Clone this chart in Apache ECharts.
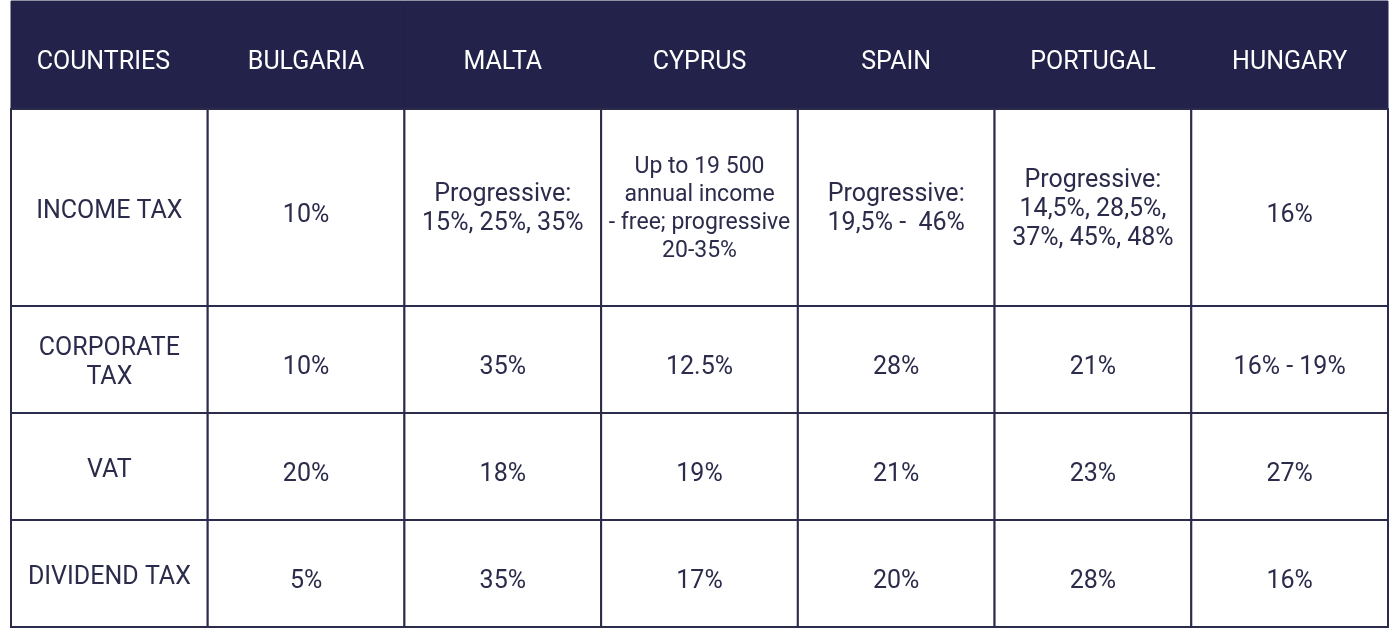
<!DOCTYPE html>
<html>
<head>
<meta charset="utf-8">
<script src="https://cdn.jsdelivr.net/npm/echarts@6/dist/echarts.min.js"></script>
<style>
html,body{margin:0;padding:0;background:#ffffff;}
#chart{width:1400px;height:639px;}
</style>
</head>
<body>
<div id="chart"></div>
<script>
// ---- data ----
var columns = ['COUNTRIES', 'BULGARIA', 'MALTA', 'CYPRUS', 'SPAIN', 'PORTUGAL', 'HUNGARY'];
var rowLabels = ['INCOME TAX', 'CORPORATE\nTAX', 'VAT', 'DIVIDEND TAX'];
var incomeTax = ['10%', 'Progressive:\n15%, 25%, 35%', 'Up to 19 500\nannual income\n- free; progressive\n20-35%', 'Progressive:\n19,5% -  46%', 'Progressive:\n14,5%, 28,5%,\n37%, 45%, 48%', '16%'];
var corporateTax = ['10%', '35%', '12.5%', '28%', '21%', '16% - 19%'];
var vat = ['20%', '18%', '19%', '21%', '23%', '27%'];
var dividendTax = ['5%', '35%', '17%', '20%', '28%', '16%'];

// ---- layout (row heights in axis units) ----
var rowHeights = [108, 197, 107, 107, 107];
var cum = [0];
rowHeights.forEach(function (h, i) { cum.push(cum[i] + h); });

var bodyRows = [incomeTax, corporateTax, vat, dividendTax];
var cells = [];   // [col, row]
var texts = [];
columns.forEach(function (name, c) { cells.push([c, 0]); texts.push(name); });
bodyRows.forEach(function (vals, r) {
  cells.push([0, r + 1]); texts.push(rowLabels[r]);
  vals.forEach(function (v, c) { cells.push([c + 1, r + 1]); texts.push(v); });
});

var NAVY = '#22224a';
var INK = '#2b2b4b';

var chart = echarts.init(document.getElementById('chart'));
chart.setOption({
  backgroundColor: '#ffffff',
  animation: false,
  grid: { left: 11, right: 12, top: 1, bottom: 12 },
  xAxis: { type: 'value', min: 0, max: columns.length, show: false },
  yAxis: { type: 'value', min: 0, max: cum[cum.length - 1], inverse: true, show: false },
  series: [{
    type: 'custom',
    data: cells,
    encode: { x: 0, y: 1 },
    renderItem: function (params, api) {
      var c = api.value(0), r = api.value(1);
      var p0 = api.coord([c, cum[r]]);
      var p1 = api.coord([c + 1, cum[r + 1]]);
      var x = Math.min(p0[0], p1[0]), y = Math.min(p0[1], p1[1]);
      var w = Math.abs(p1[0] - p0[0]), h = Math.abs(p1[1] - p0[1]);
      var header = r === 0;
      var t = texts[params.dataIndex];
      var nLines = t.split('\n').length;
      var dy = header ? 8 : (c === 0 ? 4 : (nLines > 1 ? 2 : 8));
      var dx = (header && c === 0) ? -6 : 0;
      return {
        type: 'group',
        children: [{
          type: 'rect',
          shape: { x: x, y: y, width: w, height: h },
          style: header ? { fill: NAVY, stroke: NAVY, lineWidth: 1 }
                        : { fill: '#ffffff', stroke: INK, lineWidth: 2 }
        }, {
          type: 'text',
          style: {
            text: t,
            x: x + w / 2 + dx,
            y: y + h / 2 + dy,
            align: 'center',
            verticalAlign: 'middle',
            fontSize: nLines > 3 ? 23 : 25,
            fontFamily: 'Roboto',
            lineHeight: nLines > 3 ? 28 : 29,
            fill: header ? '#ffffff' : INK
          },
          z2: 10
        }]
      };
    }
  }]
});
</script>
</body>
</html>
